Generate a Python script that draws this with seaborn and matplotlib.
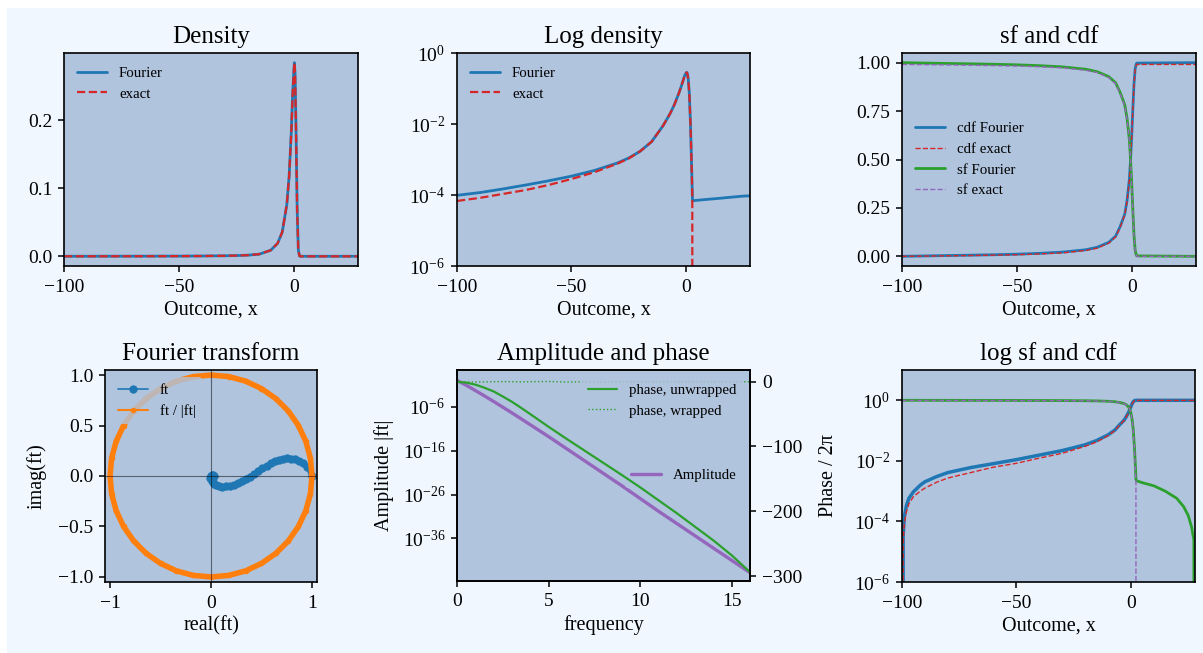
import numpy as np
import pandas as pd
import matplotlib
matplotlib.use("Agg")
import matplotlib.pyplot as plt
from matplotlib.patches import Rectangle
from matplotlib.ticker import NullLocator, FixedLocator
import seaborn as sns

# ---------------------------------------------------------------- data
# density on the outcome grid (Fourier inversion vs closed form)
x_dens = [-100, -90, -80, -70, -60, -50, -40, -30, -25, -20, -15, -10, -7, -5, -3, -2,
          -1, -0.5, 0, 0.3, 0.6, 1.0, 1.5, 2.0, 2.5, 2.8, 2.9, 5, 10, 15, 20, 25, 28]
dens_fourier = [9.8e-5, 1.17e-4, 1.48e-4, 1.91e-4, 2.51e-4, 3.39e-4, 4.90e-4, 7.94e-4,
                1.10e-3, 1.70e-3, 3.16e-3, 8.9e-3, 1.91e-2, 3.55e-2, 7.6e-2, 0.117,
                0.186, 0.234, 0.269, 0.285, 0.269, 0.19, 0.071, 0.010, 6.3e-4, 1.0e-4,
                6.9e-5, 7.1e-5, 7.6e-5, 8.1e-5, 8.7e-5, 9.3e-5, 9.5e-5]
dens_exact = [6.8e-5, 8.3e-5, 1.07e-4, 1.38e-4, 1.91e-4, 2.82e-4, 4.37e-4, 7.6e-4,
              1.07e-3, 1.70e-3, 3.16e-3, 8.9e-3, 1.91e-2, 3.55e-2, 7.6e-2, 0.117,
              0.186, 0.234, 0.269, 0.285, 0.269, 0.19, 0.071, 0.010, 6.3e-4, 1.0e-4,
              0.0, 0.0, 0.0, 0.0, 0.0, 0.0, 0.0]

# distribution and survival functions
x_cdf = [-100, -99.5, -99, -98, -97, -95, -92, -90, -85, -80, -70, -60, -50, -40, -30,
         -20, -15, -10, -7, -5, -3, -2, -1, -0.5, 0, 0.5, 1, 1.5, 2, 2.2, 2.4, 5, 10,
         15, 20, 23, 25, 26.5, 27.5, 28]
cdf_fourier = [0.0, 3.2e-5, 1.4e-4, 3.5e-4, 5.8e-4, 9.5e-4, 1.58e-3, 2.04e-3, 3.0e-3,
               4.1e-3, 6.0e-3, 8.1e-3, 1.10e-2, 1.55e-2, 2.19e-2, 3.39e-2, 4.68e-2,
               7.2e-2, 0.104, 0.154, 0.219, 0.289, 0.399, 0.499, 0.619, 0.759, 0.889,
               0.968, 0.994, 0.9975, 0.9978, 0.9981, 0.9985, 0.9990, 0.99942, 0.99969,
               0.99984, 0.999934, 0.999976, 1.0]
cdf_exact = [0.0, 2.0e-5, 8.5e-5, 2.2e-4, 3.8e-4, 6.6e-4, 1.0e-3, 1.26e-3, 1.95e-3,
             2.7e-3, 4.1e-3, 6.2e-3, 8.3e-3, 1.23e-2, 1.78e-2, 3.02e-2, 4.2e-2, 6.8e-2,
             0.100, 0.150, 0.215, 0.285, 0.395, 0.495, 0.615, 0.755, 0.884, 0.963,
             0.988, 0.9905, 0.991, 0.991, 0.991, 0.991, 0.991, 0.991, 0.991, 0.991,
             0.991, 0.991]
sf_fourier = [1.0, 0.99997, 0.99986, 0.99965, 0.99942, 0.99905, 0.99842, 0.99796, 0.997,
              0.9959, 0.994, 0.9919, 0.989, 0.9845, 0.9781, 0.9661, 0.9532, 0.928,
              0.896, 0.846, 0.781, 0.711, 0.601, 0.501, 0.381, 0.241, 0.111, 0.032,
              0.006, 0.0025, 0.0022, 0.0019, 0.0015, 0.0010, 5.8e-4, 3.1e-4, 1.6e-4,
              6.6e-5, 2.4e-5, 0.0]
sf_exact = [0.991, 0.991, 0.9909, 0.9908, 0.9906, 0.9903, 0.990, 0.9897, 0.989, 0.9883,
            0.9869, 0.9848, 0.9827, 0.9787, 0.9732, 0.9608, 0.949, 0.923, 0.891, 0.841,
            0.776, 0.706, 0.596, 0.496, 0.376, 0.236, 0.107, 0.028, 0.004, 0.002, 0.0,
            0.0, 0.0, 0.0, 0.0, 0.0, 0.0, 0.0, 0.0, 0.0]

# characteristic function in the complex plane
ft_real = [1.0, 0.955, 0.91, 0.87, 0.83, 0.79, 0.75, 0.71, 0.67, 0.63, 0.59, 0.55, 0.51,
           0.47, 0.43, 0.39, 0.35, 0.31, 0.27, 0.23, 0.19, 0.15, 0.11, 0.08, 0.05, 0.03,
           0.015, 0.005, 0.0, -0.005, 0.0, 0.01, 0.02, 0.025, 0.02, 0.01, 0.0]
ft_imag = [0.0, 0.09, 0.125, 0.15, 0.165, 0.172, 0.175, 0.172, 0.162, 0.145, 0.125, 0.10,
           0.075, 0.05, 0.022, -0.005, -0.03, -0.052, -0.072, -0.087, -0.098, -0.104,
           -0.105, -0.10, -0.09, -0.077, -0.06, -0.045, -0.03, -0.015, 0.0, 0.01, 0.01,
           0.0, -0.01, -0.01, 0.0]
unit_real = [1.0, 0.985, 0.940, 0.866, 0.766, 0.643, 0.5, 0.342, 0.174, 0.0, -0.174,
             -0.342, -0.5, -0.643, -0.766, -0.866, -0.940, -0.985, -1.0, -0.985, -0.940,
             -0.866, -0.766, -0.643, -0.5, -0.342, -0.174, 0.0, 0.174, 0.342, 0.5, 0.643,
             0.766, 0.866, 0.940, 0.985, 1.0]
unit_imag = [0.0, 0.174, 0.342, 0.5, 0.643, 0.766, 0.866, 0.940, 0.985, 1.0, 0.985, 0.940,
             0.866, 0.766, 0.643, 0.5, 0.342, 0.174, 0.0, -0.174, -0.342, -0.5, -0.643,
             -0.766, -0.866, -0.940, -0.985, -1.0, -0.985, -0.940, -0.866, -0.766, -0.643,
             -0.5, -0.342, -0.174, 0.0]

# amplitude and phase against frequency
freq = [0, 0.5, 1, 1.5, 2, 2.5, 3, 3.5, 4, 5, 6, 7, 8, 9, 10, 11, 12, 13, 14, 15, 16]
amplitude = [1.0, 8e-2, 5e-3, 2.9e-4, 1.6e-5, 8e-7, 4e-8, 1.8e-9, 8e-11, 1.6e-13,
             2.5e-16, 4e-19, 6.3e-22, 1e-24, 1.26e-27, 1.6e-30, 2.5e-33, 4e-36, 6.3e-39,
             1e-41, 1.6e-44]
phase_unwrapped = [0.0, -1.4, -4.5, -9.3, -15.0, -22.8, -31.0, -40.3, -50.0, -69.6,
                   -88.5, -107.0, -125.5, -144.0, -163.0, -183.0, -203.0, -224.0,
                   -245.0, -268.0, -294.0]
phase_wrapped = [((p + 0.5) % 1.0) - 0.5 for p in phase_unwrapped]

# ---------------------------------------------------------------- style
FIG_BG = "#f0f7ff"
AX_BG = "#b0c4de"
C_BLUE, C_ORANGE, C_GREEN, C_RED, C_PURPLE = sns.color_palette("tab10")[:5]

sns.set_theme(style="ticks", rc={
    "axes.facecolor": AX_BG,
    "axes.edgecolor": "black",
    "axes.linewidth": 1.2,
    "xtick.major.size": 4,
    "ytick.major.size": 4,
    "xtick.major.width": 1.1,
    "ytick.major.width": 1.1,
    "xtick.major.pad": 5,
    "ytick.major.pad": 4.5,
    "xtick.labelsize": 14,
    "ytick.labelsize": 14,
    "axes.labelsize": 14.5,
    "axes.labelpad": 3.5,
    "axes.titlesize": 18,
    "axes.titlepad": 7,
    "legend.fontsize": 10.7,
    "legend.frameon": True,
    "legend.edgecolor": "none",
    "legend.framealpha": 0.8,
    "text.color": "black",
    "axes.labelcolor": "black",
    "xtick.color": "black",
    "ytick.color": "black",
})
plt.rcParams["font.family"] = ["Liberation Serif", "DejaVu Serif"]
plt.rcParams["mathtext.fontset"] = "stix"

W, H = 1203, 653
fig = plt.figure(figsize=(W / 100, H / 100), dpi=100, facecolor="white")
fig.add_artist(Rectangle((7 / W, 0), 1, (H - 8) / H, transform=fig.transFigure,
                         facecolor=FIG_BG, edgecolor="none", zorder=-10))


def box(left, top, right, bottom):
    return [left / W, 1 - bottom / H, (right - left) / W, (bottom - top) / H]


ax1 = fig.add_axes(box(64, 53, 358, 266))
ax2 = fig.add_axes(box(457, 53, 750, 266))
ax3 = fig.add_axes(box(902, 53, 1196, 266))
ax4 = fig.add_axes(box(105, 370, 317, 582))
ax5 = fig.add_axes(box(457, 370, 750, 581))
ax6 = fig.add_axes(box(902, 370, 1195, 582))

XLIM = (-100, 28)

# ---- Density
sns.lineplot(x=x_dens, y=dens_fourier, ax=ax1, color=C_BLUE, lw=2, label="Fourier",
             estimator=None, sort=False)
sns.lineplot(x=x_dens, y=dens_exact, ax=ax1, color=C_RED, lw=1.6, linestyle="--",
             label="exact", estimator=None, sort=False)
ax1.set_xlim(*XLIM)
ax1.set_title("Density")
ax1.set_xlabel("Outcome, x")
ax1.set_yticks([0.0, 0.1, 0.2])
ax1.legend(loc="upper left")

# ---- Log density
sns.lineplot(x=x_dens, y=dens_fourier, ax=ax2, color=C_BLUE, lw=2, label="Fourier",
             estimator=None, sort=False)
sns.lineplot(x=x_dens, y=dens_exact, ax=ax2, color=C_RED, lw=1.6, linestyle="--",
             label="exact", estimator=None, sort=False)
ax2.set_yscale("log")
ax2.set_ylim(1e-6, 1e0)
ax2.yaxis.set_major_locator(FixedLocator([1e-6, 1e-4, 1e-2, 1e0]))
ax2.yaxis.set_minor_locator(NullLocator())
ax2.set_xlim(*XLIM)
ax2.set_title("Log density")
ax2.set_xlabel("Outcome, x")
ax2.legend(loc="upper left")


def cdf_panel(ax, lw_main):
    sns.lineplot(x=x_cdf, y=cdf_fourier, ax=ax, color=C_BLUE, lw=lw_main,
                 label="cdf Fourier", estimator=None, sort=False)
    sns.lineplot(x=x_cdf, y=cdf_exact, ax=ax, color=C_RED, lw=1, linestyle="--",
                 label="cdf exact", estimator=None, sort=False)
    sns.lineplot(x=x_cdf, y=sf_fourier, ax=ax, color=C_GREEN, lw=2,
                 label="sf Fourier", estimator=None, sort=False)
    sns.lineplot(x=x_cdf, y=sf_exact, ax=ax, color=C_PURPLE, lw=1, linestyle="--",
                 label="sf exact", estimator=None, sort=False)
    ax.set_xlim(*XLIM)
    ax.set_xlabel("Outcome, x")


# ---- sf and cdf
cdf_panel(ax3, 2)
ax3.set_yticks([0.0, 0.25, 0.5, 0.75, 1.0])
ax3.set_title("sf and cdf")
ax3.legend(loc="center left")

# ---- log sf and cdf
cdf_panel(ax6, 2.5)
ax6.get_legend().remove()
ax6.set_yscale("log")
ax6.set_ylim(1e-6, 1e1)
ax6.yaxis.set_major_locator(FixedLocator([1e-6, 1e-4, 1e-2, 1e0]))
ax6.yaxis.set_minor_locator(NullLocator())
ax6.set_title("log sf and cdf")

# ---- Fourier transform
sns.lineplot(x=ft_real, y=ft_imag, ax=ax4, color=C_BLUE, lw=3.5, estimator=None,
             sort=False)
sns.lineplot(x=ft_real, y=ft_imag, ax=ax4, color=C_BLUE, lw=1.2, marker="o",
             markersize=6, markeredgewidth=0, label="ft", estimator=None, sort=False)
# thick ring underneath, thin marked line on top carries the legend entry
sns.lineplot(x=unit_real, y=unit_imag, ax=ax4, color=C_ORANGE, lw=4, estimator=None,
             sort=False)
sns.lineplot(x=unit_real, y=unit_imag, ax=ax4, color=C_ORANGE, lw=1.5, marker="o",
             markersize=4, markeredgewidth=0, label="ft / |ft|", estimator=None,
             sort=False)
ax4.axhline(0, color="black", lw=0.8, alpha=0.5)
ax4.axvline(0, color="black", lw=0.8, alpha=0.5)
ax4.set_xlim(-1.05, 1.05)
ax4.set_ylim(-1.05, 1.05)
ax4.set_xticks([-1, 0, 1])
ax4.set_yticks([-1.0, -0.5, 0.0, 0.5, 1.0])
ax4.set_title("Fourier transform")
ax4.set_xlabel("real(ft)")
ax4.set_ylabel("imag(ft)", labelpad=8)
ax4.legend(loc="upper left")

# ---- Amplitude and phase
sns.lineplot(x=freq, y=amplitude, ax=ax5, color=C_PURPLE, lw=2.4, label="Amplitude",
             estimator=None, sort=False)
ax5.set_yscale("log")
ax5.set_ylim(10 ** -45.7, 10 ** 2.37)
ax5.yaxis.set_major_locator(FixedLocator([1e-36, 1e-26, 1e-16, 1e-6]))
ax5.yaxis.set_minor_locator(NullLocator())
ax5.set_xlim(0, 16)
ax5.set_xticks([0, 5, 10, 15])
ax5.set_xlabel("frequency")
ax5.set_ylabel("Amplitude |ft|", labelpad=6)
ax5.set_title("Amplitude and phase")
ax5.legend(loc="center right")

ax5r = ax5.twinx()
sns.lineplot(x=freq, y=phase_unwrapped, ax=ax5r, color=C_GREEN, lw=1.6,
             label="phase, unwrapped", estimator=None, sort=False)
sns.lineplot(x=freq, y=phase_wrapped, ax=ax5r, color=C_GREEN, lw=1, linestyle=":",
             label="phase, wrapped", estimator=None, sort=False)
ax5r.set_ylim(-307.7, 18.1)
ax5r.set_yticks([0, -100, -200, -300])
ax5r.set_ylabel("Phase / 2π", labelpad=12)
ax5r.legend(loc="upper right")

fig.savefig("out.png", dpi=100, facecolor=fig.get_facecolor())
